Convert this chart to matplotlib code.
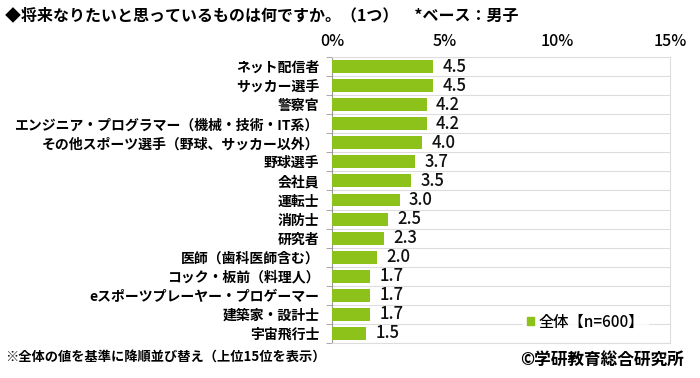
import matplotlib.pyplot as plt
from matplotlib.patches import Rectangle

plt.rcParams['font.family'] = ['Noto Sans CJK JP', 'DejaVu Sans']

# data (percent, base: boys)
categories = ['ネット配信者', 'サッカー選手', '警察官',
              'エンジニア・プログラマー（機械・技術・IT系）',
              'その他スポーツ選手（野球、サッカー以外）',
              '野球選手', '会社員', '運転士', '消防士', '研究者',
              '医師（歯科医師含む）', 'コック・板前（料理人）',
              'eスポーツプレーヤー・プロゲーマー', '建築家・設計士', '宇宙飛行士']
values = [4.5, 4.5, 4.2, 4.2, 4.0, 3.7, 3.5, 3.0, 2.5, 2.3, 2.0, 1.7, 1.7, 1.7, 1.5]
xticks = [0, 5, 10, 15]
xtick_labels = ['0%', '5%', '10%', '15%']
legend_label = '全体【n=600】'

green = '#8DC21A'
grid = '#DDDDDD'

fig = plt.figure(figsize=(7, 3.78), dpi=100)
ax = fig.add_axes([332 / 700, 1 - 343 / 378, 338 / 700, 286 / 378])

y = list(range(len(categories)))
ax.barh(y, values, height=0.68, color=green, zorder=3)
for yi, v in zip(y, values):
    ax.text(v + 0.42, yi, '{:.1f}'.format(v), va='center', ha='left',
            fontsize=12, fontweight='medium', color='#111111', zorder=4)

ax.set_xlim(0, 15)
ax.set_ylim(len(categories) - 0.5, -0.5)
ax.xaxis.tick_top()
ax.set_xticks(xticks)
ax.set_xticklabels(xtick_labels, fontsize=11.5, fontweight='medium')
ax.tick_params(axis='x', length=0, pad=5)

ax.set_yticks(y)
ax.set_yticklabels(categories, fontsize=10, fontweight='bold')
ax.tick_params(axis='y', length=0, pad=9)
# separators between categories
ax.set_yticks([i + 0.5 for i in range(-1, len(categories))], minor=True)
ax.tick_params(axis='y', which='minor', length=4, color='#999999')
ax.grid(axis='y', which='minor', color=grid, linewidth=0.8, zorder=0)

for side in ['top', 'right', 'bottom']:
    ax.spines[side].set_color(grid)
ax.spines['left'].set_color('#999999')

# legend box
leg = ax.legend([Rectangle((0, 0), 1, 1, color=green)], [legend_label],
                loc='lower right', bbox_to_anchor=(0.96, 0.0), frameon=True,
                handlelength=0.45, handleheight=0.45, handletextpad=0.3,
                prop={'size': 11, 'weight': 'medium'}, borderpad=0.3)
leg.get_frame().set_edgecolor('none')
leg.get_frame().set_facecolor('white')
leg.set_zorder(5)

fig.text(5 / 700, 1 - 15 / 378, '◆将来なりたいと思っているものは何ですか。（1つ）　*ベース：男子',
         fontsize=11.5, fontweight='bold', va='center', ha='left')
fig.text(5 / 700, 1 - 357 / 378, '※全体の値を基準に降順並び替え（上位15位を表示）',
         fontsize=9.5, fontweight='bold', va='center', ha='left')
fig.text(684 / 700, 1 - 360 / 378, '©学研教育総合研究所',
         fontsize=12, fontweight='bold', va='center', ha='right')

fig.savefig('out.png', dpi=100)
